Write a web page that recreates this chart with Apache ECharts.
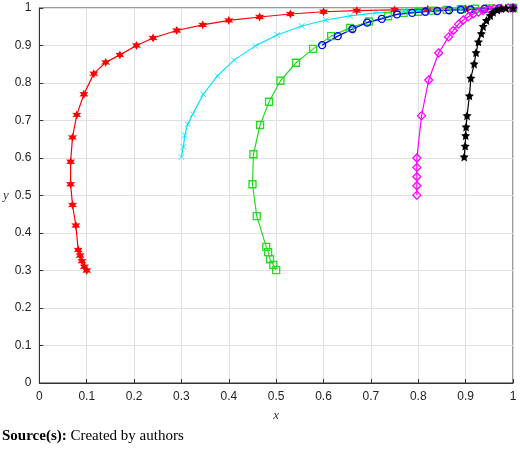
<!DOCTYPE html>
<html><head><meta charset="utf-8">
<script src="https://cdn.jsdelivr.net/npm/echarts@6/dist/echarts.min.js"></script>
<style>body{margin:0;background:#fff}#c{width:520px;height:452px}</style></head>
<body><div id="c"></div>
<script>
const xTicks=[0,0.1,0.2,0.3,0.4,0.5,0.6,0.7,0.8,0.9,1];
const redS=[[0.10,0.30],[0.095,0.31],[0.09,0.325],[0.086,0.34],[0.082,0.355],[0.077,0.42],[0.07,0.475],[0.066,0.53],[0.066,0.59],[0.07,0.655],[0.079,0.715],[0.094,0.77],[0.115,0.825],[0.14,0.855],[0.17,0.875],[0.205,0.9],[0.24,0.92],[0.29,0.94],[0.345,0.955],[0.40,0.967],[0.465,0.976],[0.53,0.984],[0.60,0.99],[0.67,0.993],[0.75,0.995],[0.82,0.997],[0.9,0.998],[1,1]];
const cyanS=[[0.30,0.603],[0.304,0.63],[0.307,0.66],[0.313,0.69],[0.324,0.717],[0.346,0.77],[0.376,0.819],[0.411,0.861],[0.456,0.899],[0.502,0.928],[0.554,0.952],[0.605,0.968],[0.656,0.979],[0.71,0.987],[0.77,0.992],[0.83,0.995],[0.89,0.998],[0.95,0.999],[1,1]];
const greenS=[[0.50,0.301],[0.494,0.315],[0.487,0.33],[0.483,0.349],[0.479,0.363],[0.459,0.445],[0.45,0.53],[0.452,0.61],[0.466,0.688],[0.485,0.75],[0.509,0.806],[0.542,0.854],[0.578,0.891],[0.616,0.925],[0.656,0.947],[0.696,0.964],[0.736,0.978],[0.769,0.987],[0.80,0.99],[0.83,0.993],[0.86,0.995],[0.89,0.997],[0.92,0.998],[0.95,0.999],[1,1]];
const blueS=[[0.597,0.901],[0.63,0.925],[0.661,0.944],[0.692,0.961],[0.723,0.971],[0.755,0.983],[0.787,0.987],[0.815,0.99],[0.84,0.992],[0.865,0.994],[0.89,0.995],[0.91,0.996],[0.94,0.998],[0.97,0.999],[1,1]];
const magS=[[0.797,0.501],[0.797,0.526],[0.797,0.55],[0.797,0.575],[0.797,0.60],[0.807,0.713],[0.822,0.808],[0.843,0.88],[0.864,0.923],[0.874,0.94],[0.885,0.957],[0.895,0.968],[0.906,0.977],[0.916,0.984],[0.927,0.989],[0.937,0.993],[0.95,0.996],[0.96,0.998],[0.975,0.999],[0.99,1],[1,1]];
const blackS=[[0.897,0.603],[0.899,0.632],[0.90,0.66],[0.901,0.683],[0.903,0.713],[0.908,0.766],[0.911,0.813],[0.918,0.851],[0.922,0.881],[0.927,0.91],[0.933,0.932],[0.937,0.951],[0.944,0.967],[0.952,0.98],[0.958,0.989],[0.967,0.995],[0.975,0.999],[0.985,1],[1,1]];
const star5='path://M0,-10L2.94,-4.05L9.51,-3.09L4.76,1.55L5.88,8.09L0,5L-5.88,8.09L-4.76,1.55L-9.51,-3.09L-2.94,-4.05Z';
const star6='path://M0,-10L2.5,-4.33L8.66,-5L5,0L8.66,5L2.5,4.33L0,10L-2.5,4.33L-8.66,5L-5,0L-8.66,-5L-2.5,-4.33Z';
const cross='path://M-10,-8.5L-8.5,-10L0,-1.5L8.5,-10L10,-8.5L1.5,0L10,8.5L8.5,10L0,1.5L-8.5,10L-10,8.5L-1.5,0Z';
function s(d,c,sym,size,filled){return {type:'line',data:d,symbol:sym,symbolSize:size,showAllSymbol:true,
 lineStyle:{color:c,width:1.2},itemStyle:{color:filled?c:'none',borderColor:c,borderWidth:filled?0:1.3},animation:false};}
const ax={min:0,max:1,interval:0.1,axisLine:{lineStyle:{color:'#333'}},axisTick:{inside:true,length:4,lineStyle:{color:'#333'}},
 splitLine:{lineStyle:{color:'#e0e0e0'}},axisLabel:{color:'#222',fontSize:12,fontFamily:'Liberation Sans',formatter:v=>String(+v.toFixed(1))},
 nameTextStyle:{fontStyle:'italic',fontFamily:'Liberation Serif',fontSize:13,color:'#333'}};
const chart=echarts.init(document.getElementById('c'));
chart.setOption({
 grid:{left:37,right:7,top:8,bottom:69,show:true,borderColor:'#333'},
 xAxis:Object.assign({},ax,{type:'value',name:'x',nameLocation:'middle',nameGap:26}),
 yAxis:Object.assign({},ax,{type:'value',name:'y',nameLocation:'middle',nameGap:28,nameRotate:0}),
 graphic:[{type:'text',left:2,top:429,style:{rich:{b:{fontWeight:'bold',fontFamily:'Liberation Serif',fontSize:15,fill:'#000'},n:{fontFamily:'Liberation Serif',fontSize:15,fill:'#000'}},text:'{b|Source(s):}{n| Created by authors}'}}],
 series:[s(redS,'#ff0000',star6,9,true),s(cyanS,'#00e5ff',cross,6,true),s(greenS,'#22dd22','rect',7,false),
  s(blueS,'#0000ff','circle',7,false),s(magS,'#ff00ff','diamond',8,false),s(blackS,'#000',star5,9,true)]
});
</script></body></html>
